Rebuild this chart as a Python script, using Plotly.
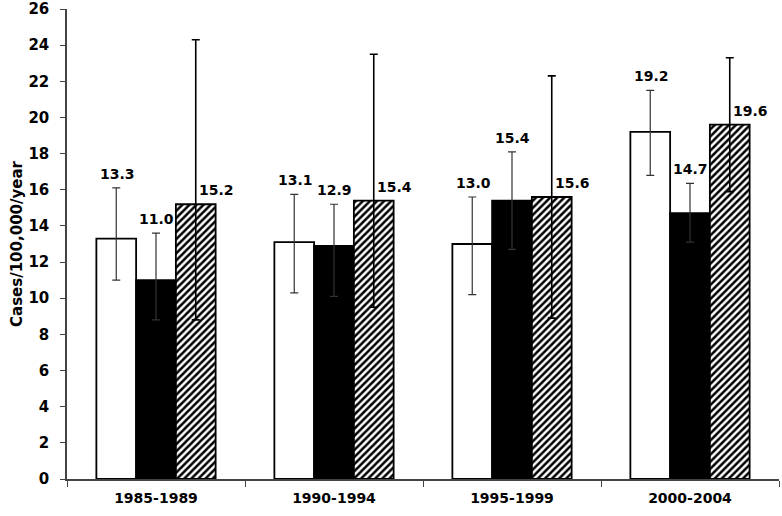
import plotly.graph_objects as go

periods = ["1985-1989", "1990-1994", "1995-1999", "2000-2004"]

white_vals = [13.3, 13.1, 13.0, 19.2]
white_hi = [16.1, 15.75, 15.6, 21.5]
white_lo = [11.0, 10.3, 10.2, 16.8]

black_vals = [11.0, 12.9, 15.4, 14.7]
black_hi = [13.6, 15.2, 18.1, 16.35]
black_lo = [8.8, 10.1, 12.7, 13.1]

hatch_vals = [15.2, 15.4, 15.6, 19.6]
hatch_hi = [24.3, 23.5, 22.3, 23.3]
hatch_lo = [8.8, 9.5, 8.9, 15.9]

FONT = "DejaVu Sans"


def err(vals, hi, lo, color="#333", thick=1.2):
    return dict(
        type="data",
        symmetric=False,
        array=[h - v for h, v in zip(hi, vals)],
        arrayminus=[v - l for v, l in zip(vals, lo)],
        color=color,
        thickness=thick,
        width=4,
    )


fig = go.Figure()
fig.add_trace(go.Bar(
    x=periods, y=white_vals, name="a", offsetgroup="a",
    marker=dict(color="white", line=dict(color="black", width=1.8)),
    error_y=err(white_vals, white_hi, white_lo),
))
fig.add_trace(go.Bar(
    x=periods, y=black_vals, name="b", offsetgroup="b",
    marker=dict(color="black", line=dict(color="black", width=1.8)),
    error_y=err(black_vals, black_hi, black_lo),
))
fig.add_trace(go.Bar(
    x=periods, y=hatch_vals, name="c", offsetgroup="c",
    marker=dict(
        color="white",
        line=dict(color="black", width=1.8),
        pattern=dict(shape="/", fgcolor="black", bgcolor="white",
                     size=5, solidity=0.5, fgopacity=1),
    ),
    error_y=err(hatch_vals, hatch_hi, hatch_lo, color="black", thick=1.6),
))

# value labels (hatched ones sit just right of the long error bar)
bar_w = 1 / 3 * (1 - 0.33)
for k, (vals, tops, xs) in enumerate([
    (white_vals, white_hi, 1),
    (black_vals, black_hi, 0),
    (hatch_vals, hatch_vals, 21),
]):
    for i, (v, t) in enumerate(zip(vals, tops)):
        fig.add_annotation(
            x=i + (k - 1) * bar_w, y=t, text=f"<b>{v:.1f}</b>",
            showarrow=False, yanchor="bottom", yshift=4, xshift=xs,
            font=dict(family=FONT, size=14, color="black"),
        )

fig.update_layout(
    width=782, height=516,
    margin=dict(l=67, r=3, t=9, b=37),
    paper_bgcolor="white", plot_bgcolor="white",
    barmode="group", bargap=0.33, bargroupgap=0,
    showlegend=False,
    font=dict(family=FONT, color="black"),
)
fig.update_xaxes(
    automargin=False,
    showline=True, linecolor="#444", linewidth=1.5,
    ticks="outside", tickson="boundaries", ticklen=6, tickcolor="#444",
    ticklabelstandoff=5,
    tickfont=dict(family=FONT, size=14, color="black"),
    tickprefix="<b>", ticksuffix="</b>",
)
fig.update_yaxes(
    automargin=False,
    range=[0, 26], dtick=2, showgrid=False, zeroline=False,
    showline=True, linecolor="#444", linewidth=1.5,
    ticks="outside", ticklen=5, tickcolor="#444",
    ticklabelstandoff=8,
    tickfont=dict(family=FONT, size=15, color="black"),
    tickprefix="<b>", ticksuffix="</b>",
    title=dict(text="<b>Cases/100,000/year</b>", font=dict(family=FONT, size=15), standoff=2),
)

# page body has a default margin; drop it so the figure sits at 0,0
fig.write_html(
    "out.html",
    config={"displayModeBar": False},
    post_script="document.body.style.margin='0';document.body.style.overflow='hidden';",
)
